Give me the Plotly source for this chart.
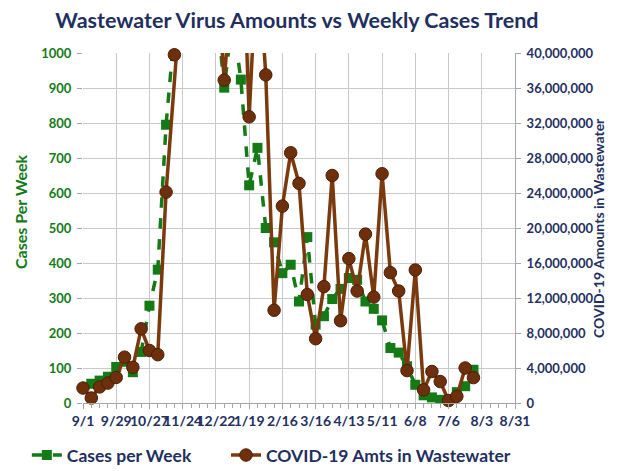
import pandas as pd
import plotly.graph_objects as go

# ---- data ----
week_dates = pd.date_range("2020-09-01", periods=48, freq="7D")
cases_per_week = [45, 55, 64, 75, 103, 118, 88, 146, 278, 381, 795, 1150, 1400, 1600,
                  1700, 1500, 1150, 901, 1100, 924, 622, 729, 500, 459, 371, 395, 290,
                  474, 224, 248, 297, 326, 357, 352, 290, 269, 236, 157, 144, 105, 52,
                  22, 16, 9, 5, 31, 48, 95]
wastewater_amts = [1.71e6, 0.57e6, 1.84e6, 2.28e6, 2.92e6, 5.24e6, 4.08e6, 8.48e6, 6.0e6,
                   5.52e6, 24.1e6, 39.8e6, 55e6, 62e6, 70e6, 60e6, 50e6, 36.9e6, 48e6,
                   60e6, 32.7e6, 52e6, 37.5e6, 10.6e6, 22.5e6, 28.6e6, 25.1e6, 12.4e6,
                   7.35e6, 13.3e6, 26.0e6, 9.4e6, 16.5e6, 12.8e6, 19.3e6, 12.1e6, 26.2e6,
                   14.9e6, 12.8e6, 3.7e6, 15.2e6, 1.5e6, 3.6e6, 2.45e6, 0.28e6, 0.76e6,
                   4.0e6, 2.9e6]
series_names = ["Cases per Week", "COVID-19 Amts in Wastewater"]
title_text = "Wastewater Virus Amounts vs Weekly Cases Trend"
left_title = "Cases Per Week"
right_title = "COVID-19 Amounts in Wastewater"

GREEN = "#137A16"
BROWN = "#7A3A0E"
NAVY = "#1F2F5F"
GRID = "#C9C9C9"
FONT = "Lato"
NBSP = "\u00a0"

fig = go.Figure()
fig.add_trace(go.Scatter(
    x=week_dates, y=cases_per_week, name=series_names[0] + NBSP * 7, mode="lines+markers",
    line=dict(color=GREEN, width=3.5, dash="dash"),
    marker=dict(symbol="square", size=10, color=GREEN),
    yaxis="y",
))
fig.add_trace(go.Scatter(
    x=week_dates, y=wastewater_amts, name=series_names[1], mode="lines+markers",
    line=dict(color=BROWN, width=3.5),
    marker=dict(symbol="circle", size=12.5, color="#6E300C",
                line=dict(color="#4A1E05", width=1)),
    yaxis="y2", cliponaxis=False,
))

fig.update_layout(
    width=609, height=463,
    paper_bgcolor="white", plot_bgcolor="white",
    margin=dict(l=75, r=102, t=45, b=68, autoexpand=False),
    title=dict(text=title_text, x=0.4745, xanchor="center", y=0.974, yanchor="middle",
               font=dict(family=FONT, size=21.5, color=NAVY, weight="bold")),
    showlegend=True,
    legend=dict(orientation="h", x=-0.13, xanchor="left", y=-0.149, yanchor="middle",
                font=dict(family=FONT, size=17.5, color=NAVY, weight="bold"),
                itemwidth=30, bgcolor="rgba(0,0,0,0)"),
    annotations=[
        dict(text=left_title, xref="paper", yref="paper", x=-0.1458, y=0.5457,
             xanchor="center", yanchor="middle", textangle=-90, showarrow=False,
             font=dict(family=FONT, size=16, color=GREEN, weight="bold")),
        dict(text=right_title, xref="paper", yref="paper", x=1.192, y=0.5,
             xanchor="center", yanchor="middle", textangle=-90, showarrow=False,
             font=dict(family=FONT, size=14, color=NAVY, weight="bold")),
    ],
    xaxis=dict(
        type="date", automargin=False,
        range=["2020-09-01", "2021-08-31"],
        tick0="2020-09-01", dtick=28 * 86400000, tickmode="linear",
        tickformat="%-m/%-d", tickangle=0, ticklabelstandoff=0,
        showgrid=True, gridcolor=GRID, gridwidth=1,
        showline=True, linecolor="#A6A6A6", linewidth=1,
        ticks="outside", ticklen=5, tickcolor="#A6A6A6",
        minor=dict(dtick=7 * 86400000, tick0="2020-09-01", ticks="outside",
                   ticklen=4, tickcolor="#A6A6A6", showgrid=False),
        tickfont=dict(family=FONT, size=14, color=NAVY, weight="bold"),
        zeroline=False,
    ),
    yaxis=dict(
        automargin=False,
        range=[0, 1000], dtick=100, tick0=0,
        showgrid=True, gridcolor=GRID, gridwidth=1,
        ticks="outside", ticklen=5, tickcolor="#A6A6A6", ticklabelstandoff=3,
        showline=False, zeroline=False,
        tickfont=dict(family=FONT, size=13, color=GREEN, weight="bold"),
    ),
    yaxis2=dict(
        automargin=False,
        range=[0, 40000000], dtick=4000000, tick0=0, overlaying="y", side="right",
        tickformat=",d", showgrid=False, zeroline=False,
        showline=True, linecolor="#A6A6A6", linewidth=1,
        ticks="outside", ticklen=5, tickcolor="#A6A6A6", ticklabelstandoff=3,
        tickfont=dict(family=FONT, size=13, color=NAVY, weight="bold"),
    ),
)

fig.write_html("out.html")
